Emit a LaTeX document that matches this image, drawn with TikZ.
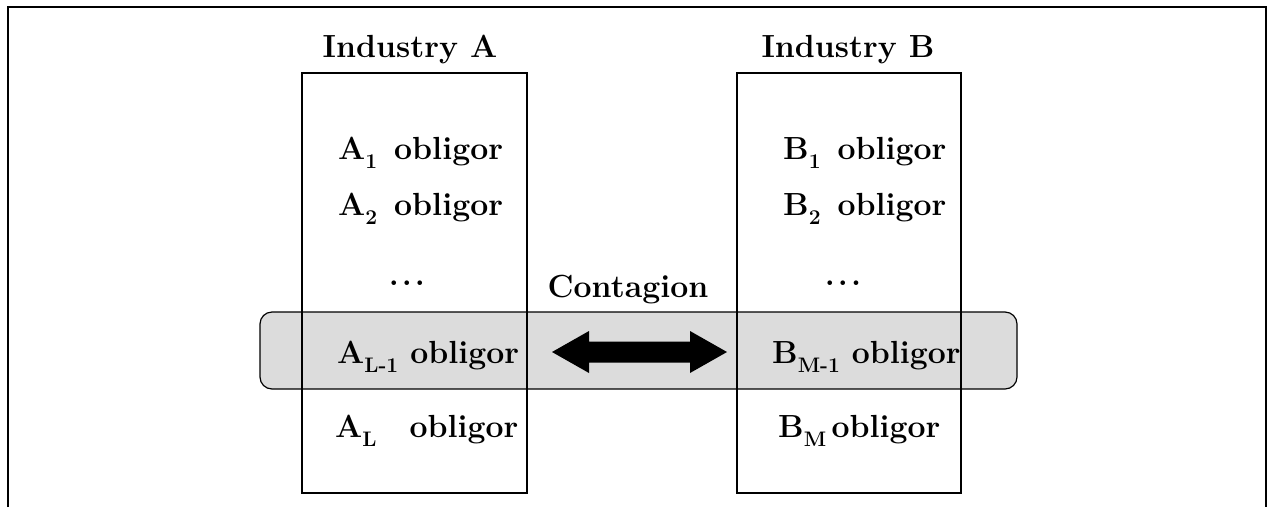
\documentclass[tikz,border=0pt]{standalone}
\usepackage{fontspec}
\definecolor{bandgray}{RGB}{220,220,220}
\newcommand{\subs}[1]{\raisebox{-0.3em}{\fontsize{21}{21}\selectfont #1}}
\begin{document}
\begin{tikzpicture}[x=1pt,y=-1pt,
  lbl/.style={inner sep=0pt, font=\fontsize{32}{36}\selectfont\bfseries},
  boxline/.style={line width=1.5pt},
  frameline/.style={line width=2pt}]
\useasboundingbox (0,0) rectangle (1273,507);
\draw[frameline] (8,507) -- (8,7) -- (1266,7) -- (1266,507);
\draw[fill=bandgray, line width=1.2pt, rounded corners=12pt] (260,312) rectangle (1017,389);
\draw[boxline] (302,73) rectangle (527,493);
\draw[boxline] (737,73) rectangle (961,493);
\node[lbl, anchor=base] (ta) at (410,57) {Industry A};
\node[lbl, anchor=base] (tb) at (848,57) {Industry B};
\node[lbl, anchor=base west] (a1) at (338,159) {A\subs{1}\hspace{17pt}obligor};
\node[lbl, anchor=base west] (a2) at (338,215) {A\subs{2}\hspace{17pt}obligor};
\node[lbl, anchor=base] (ad) at (407,285) {.\kern3pt.\kern3pt.};
\node[lbl, anchor=base west] (al1) at (337,363) {A\subs{L-1} obligor};
\node[lbl, anchor=base west] (al) at (335,437) {A\subs{L}\hspace{33pt}obligor};
\node[lbl, anchor=base west] (b1) at (783,159) {B\subs{1}\hspace{17pt}obligor};
\node[lbl, anchor=base west] (b2) at (783,215) {B\subs{2}\hspace{17pt}obligor};
\node[lbl, anchor=base] (bd) at (843,285) {.\kern3pt.\kern3pt.};
\node[lbl, anchor=base west] (bm1) at (772,363) {B\subs{M-1} obligor};
\node[lbl, anchor=base west] (bm) at (778,437) {B\subs{M}\,obligor};
\node[lbl, anchor=base] (cont) at (628,297) {Contagion};
\coordinate (ca) at (552,352);
\coordinate (cb) at (727,352);
\fill (ca) -- ([shift={(37,-21)}]ca) -- ([shift={(37,-10.5)}]ca) -- ([shift={(-37,-10.5)}]cb)
  -- ([shift={(-37,-21)}]cb) -- (cb) -- ([shift={(-37,21)}]cb) -- ([shift={(-37,10.5)}]cb)
  -- ([shift={(37,10.5)}]ca) -- ([shift={(37,21)}]ca) -- cycle;
\end{tikzpicture}
\end{document}
